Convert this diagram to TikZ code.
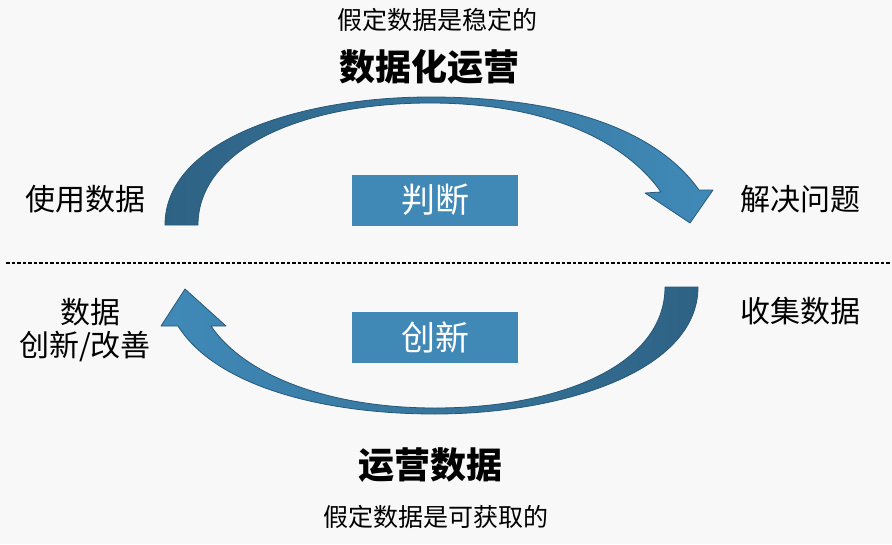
\documentclass[tikz,border=0pt]{standalone}
\usepackage{fontspec}
\setmainfont{Noto Sans CJK SC}
\definecolor{bg}{RGB}{248,248,248}
\definecolor{boxblue}{RGB}{64,137,183}
\definecolor{arrdark}{RGB}{46,98,132}
\definecolor{arrlight}{RGB}{64,138,184}
\definecolor{arredge}{RGB}{40,88,120}
\tikzset{
  lbl/.style={inner sep=0pt, text=black},
  title/.style={lbl, font=\fontsize{36}{42}\selectfont\bfseries},
  sub/.style={lbl, font=\fontsize{25}{30}\selectfont},
  side/.style={lbl, font=\fontsize{30}{36}\selectfont, align=center},
  boxlbl/.style={fill=boxblue, text=white, minimum width=166pt, minimum height=51pt, inner sep=0pt, font=\fontsize{34}{40}\selectfont},
  arrowedge/.style={draw=arredge, line width=0.8pt, line join=round}
}
\begin{document}
\begin{tikzpicture}[x=1pt,y=-1pt]
\fill[bg] (0,0) rectangle (892,544);
\useasboundingbox (0,0) rectangle (892,544);

% top arrow
\shade[arrowedge, left color=arrdark, right color=arrlight]
  (165,225) .. controls (165,140) and (300,97) .. (430,97)
  .. controls (560,97) and (655,128) .. (699,190)
  -- (713,190) -- (690,223) -- (645,193) -- (661,192)
  .. controls (622,137) and (540,103) .. (430,103)
  .. controls (300,103) and (198,150) .. (198,225) -- cycle;

% bottom arrow
\shade[arrowedge, left color=arrlight, right color=arrdark]
  (698,287) .. controls (698,372) and (560,414) .. (435,414)
  .. controls (320,414) and (215,385) .. (178,326)
  -- (161,326) -- (185,289) -- (226,326) -- (211,326)
  .. controls (245,376) and (330,408) .. (435,408)
  .. controls (560,408) and (665,365) .. (665,287) -- cycle;

% dashed separator
\coordinate (dl) at (6,263);
\coordinate (dr) at (892,263);
\draw[black, line width=1.2pt, dash pattern=on 3.5pt off 2pt] (dl) -- (dr);

% boxes
\node[boxlbl] (judge) at (435,200) {判断};
\node[boxlbl] (innov) at (435,337) {创新};

% texts
\node[sub] (assume1) at (437,20) {假定数据是稳定的};
\node[title] (dataops) at (429,67) {数据化运营};
\node[side] (usedata) at (85,199) {使用数据};
\node[side] (solve) at (800,199) {解决问题};
\node[side] (data) at (90,312) {数据};
\node[side] (innovate) at (85,347) {创新/改善};
\node[side] (collect) at (800,311) {收集数据};
\node[title] (opsdata) at (430,465) {运营数据};
\node[sub] (assume2) at (436,517) {假定数据是可获取的};
\end{tikzpicture}
\end{document}
